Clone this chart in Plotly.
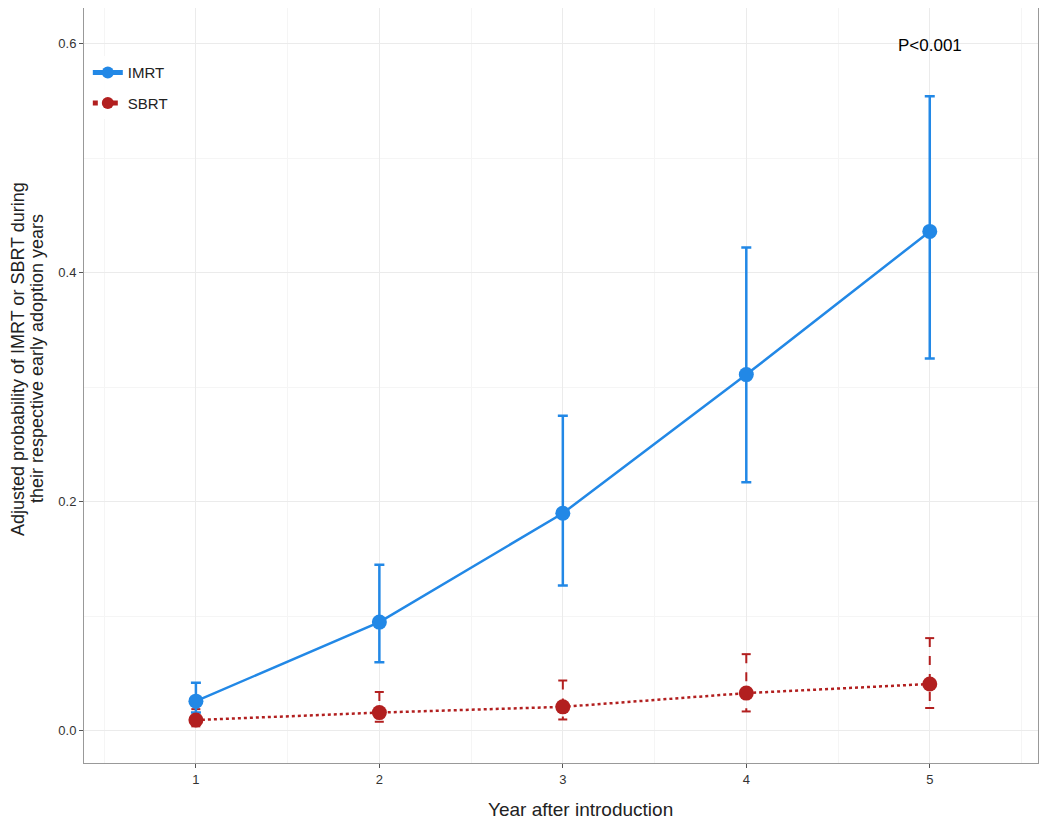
import plotly.graph_objects as go

years = [1, 2, 3, 4, 5]
imrt = [0.026, 0.095, 0.190, 0.311, 0.436]
imrt_lo = [0.016, 0.060, 0.127, 0.217, 0.325]
imrt_hi = [0.042, 0.145, 0.275, 0.422, 0.554]
sbrt = [0.0095, 0.016, 0.021, 0.033, 0.041]
sbrt_lo = [0.004, 0.008, 0.010, 0.017, 0.020]
sbrt_hi = [0.019, 0.034, 0.044, 0.067, 0.081]
ytitle_lines = ["Adjusted probability of IMRT or SBRT during",
                "their respective early adoption years"]
xtitle = "Year after introduction"

BLUE = "#2288E6"
RED = "#B21F1F"
FONT = "Liberation Sans, Arial, sans-serif"

fig = go.Figure()

# SBRT dashed error bars (vertical + caps), built from data
cap = 0.025
ex, ey = [], []
for x, lo, hi in zip(years, sbrt_lo, sbrt_hi):
    ex += [x - cap, x + cap, None, x, x, None, x - cap, x + cap, None]
    ey += [hi, hi, None, hi, lo, None, lo, lo, None]
fig.add_trace(go.Scatter(x=ex, y=ey, mode="lines", showlegend=False, hoverinfo="skip",
                         line=dict(color=RED, width=2, dash="dash")))

fig.add_trace(go.Scatter(
    x=years, y=imrt, mode="lines+markers", name="IMRT", legendgroup="a",
    line=dict(color=BLUE, width=2.5),
    marker=dict(color=BLUE, size=15),
    error_y=dict(type="data", symmetric=False,
                 array=[h - v for h, v in zip(imrt_hi, imrt)],
                 arrayminus=[v - l for v, l in zip(imrt, imrt_lo)],
                 color=BLUE, thickness=2.5, width=5),
))
fig.add_trace(go.Scatter(
    x=years, y=sbrt, mode="lines+markers", name="SBRT", legendgroup="b",
    line=dict(color=RED, width=2.5, dash="dot"),
    marker=dict(color=RED, size=15),
))

fig.add_annotation(x=5, y=0.598, text="P<0.001", showarrow=False,
                   font=dict(family=FONT, size=17, color="black"))

# two-line y-axis title as rotated annotations
for i, line in enumerate(ytitle_lines):
    fig.add_annotation(xref="paper", yref="paper", x=0, y=0.535, xanchor="center", yanchor="middle",
                       xshift=-66 + 19 * i, text=line, textangle=-90, showarrow=False,
                       font=dict(family=FONT, size=18, color="#222222"))

# x-axis title
fig.add_annotation(xref="paper", yref="paper", x=0.52, y=0, xanchor="center", yanchor="middle",
                   yshift=-46, text=xtitle, showarrow=False,
                   font=dict(family=FONT, size=19, color="#222222"))

axis_common = dict(
    showline=True, linecolor="#999999", linewidth=1, mirror=True,
    ticks="outside", ticklen=4, tickcolor="#555555",
    showgrid=True, gridcolor="#EBEBEB", gridwidth=1,
    zeroline=False,
    tickfont=dict(family=FONT, size=13, color="#333333"),
)

fig.update_layout(
    width=1050, height=826,
    margin=dict(l=76, r=20, t=0, b=71),
    plot_bgcolor="white", paper_bgcolor="white",
    font=dict(family=FONT),
    xaxis=dict(range=[0.39, 5.59], tickvals=years,
               minor=dict(showgrid=True, gridcolor="#F5F5F5", dtick=0.5, tick0=0.5),
               **axis_common),
    yaxis=dict(range=[-0.028, 0.631], tickvals=[0, 0.2, 0.4, 0.6], ticktext=["0.0", "0.2", "0.4", "0.6"],
               minor=dict(showgrid=True, gridcolor="#F5F5F5", dtick=0.1, tick0=0.1),
               **axis_common),
    legend=dict(x=0.004, y=0.936, xanchor="left", yanchor="top",
                borderwidth=0, bgcolor="rgba(255,255,255,0.9)",
                font=dict(family=FONT, size=15, color="#222222"),
                itemsizing="constant", tracegroupgap=8),
)

fig.write_html("out.html")
